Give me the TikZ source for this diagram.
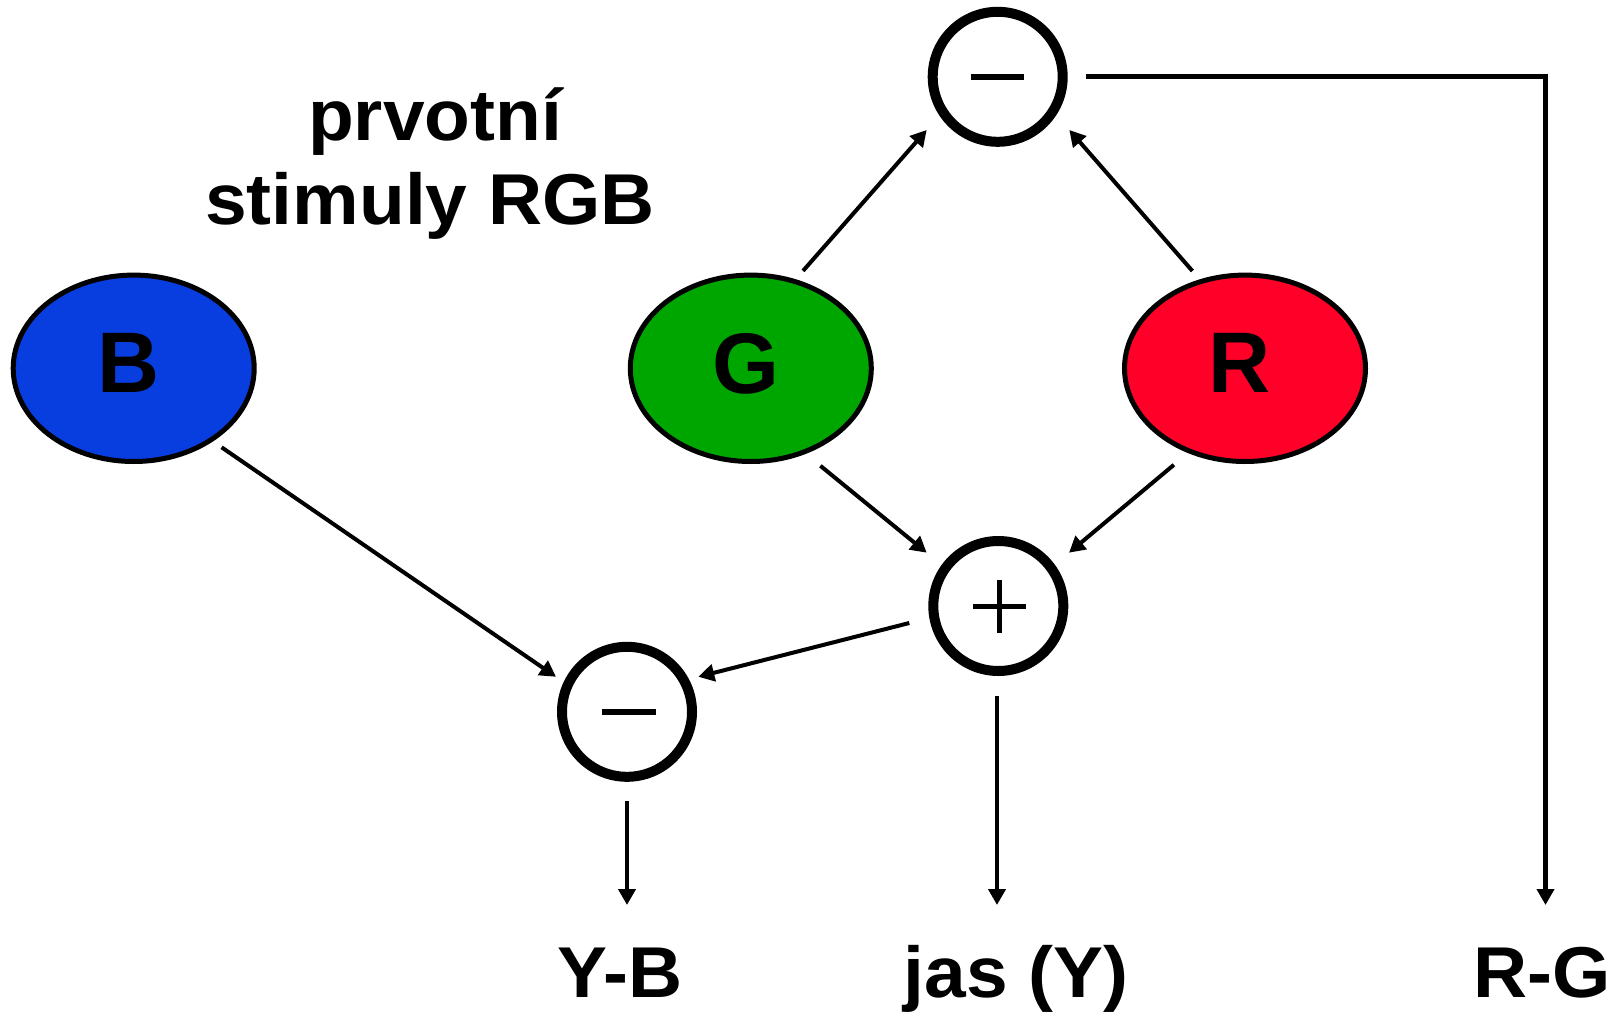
\documentclass[tikz,border=0pt]{standalone}
\usepackage{fontspec}
\setmainfont{Liberation Sans}
\newfontfamily\lblfont[FakeStretch=1.04]{Liberation Sans}
\usetikzlibrary{arrows.meta,calc,shapes.geometric}
\definecolor{coneB}{RGB}{8,62,224}
\definecolor{coneG}{RGB}{0,166,0}
\definecolor{coneR}{RGB}{255,0,40}
\begin{document}
\begin{tikzpicture}[x=0.5pt,y=-0.5pt,
  stim/.style={ellipse, draw, line width=2.5pt, minimum width=120.5pt,
    minimum height=93.2pt, inner sep=0pt, text depth=5pt,
    font=\bfseries\fontsize{43}{43}\selectfont},
  op/.style={circle, draw, line width=5pt, minimum size=65pt, inner sep=0pt},
  sign/.style={line width=3pt},
  conn/.style={line width=2pt, -{Triangle[length=8pt,width=8.5pt]}},
  lbl/.style={font=\lblfont\bfseries\fontsize{36}{36}\selectfont,
    anchor=base, inner sep=0pt}]
\useasboundingbox (0,0) rectangle (1616,1016);

% heading
\node[lbl] (title1) at (435,141) {prvotní};
\node[lbl] (title2) at (430,225) {stimuly RGB};

% primary stimuli
\node[stim, fill=coneB] (B) at (133.7,368.3) {B\kern5pt};
\node[stim, fill=coneG] (G) at (750.8,368.3) {G\kern5pt};
\node[stim, fill=coneR] (R) at (1245,368.3) {R\kern5pt};

% difference / sum stages
\node[op] (top) at (997.7,76.8) {};
\node[op] (plus) at (998.3,606) {};
\node[op] (minus) at (627,711.8) {};
\draw[sign] ($(top)+(-26.5,0)$) -- ($(top)+(26.5,0)$);
\draw[sign,line width=2.5pt] ($(plus)+(-25,0.5)$) -- ($(plus)+(28,0.5)$);
\draw[sign,line width=2.5pt] ($(plus)+(1.5,-26)$) -- ($(plus)+(1.5,27)$);
\draw[sign] ($(minus)+(-25,0)$) -- ($(minus)+(29,0)$);

% output channels
\node[lbl] (YB) at (620,997.6) {Y-B};
\node[lbl] (jas) at (1016,997.6) {jas (Y)};
\node[lbl] (RG) at (1542,997.6) {R-G};
\coordinate (ybEnd) at (627,905);
\coordinate (jasEnd) at (997,905);
\coordinate (rgEnd) at (1545.5,905);

% connections
\draw[conn] ($(G)+(52.2,-97.4)$) -- ($(top)+(-71,53.2)$);
\draw[conn] ($(R)+(-52.6,-97.3)$) -- ($(top)+(71.6,53.2)$);
\draw[conn] ($(G)+(69.6,97.5)$) -- ($(plus)+(-71.6,-53.3)$);
\draw[conn] ($(R)+(-71.1,96.5)$) -- ($(plus)+(70.7,-53.3)$);
\draw[conn] ($(B)+(87.9,79)$) -- ($(minus)+(-71,-35)$);
\draw[conn] ($(plus)+(-89,17)$) -- ($(minus)+(71.3,-35)$);
\draw[conn] ($(minus)+(0,89)$) -- (ybEnd);
\draw[conn] ($(plus)+(-1.3,90)$) -- (jasEnd);
\draw[conn, line width=2.3pt] ($(top)+(88.3,0)$) -| (rgEnd);
\end{tikzpicture}
\end{document}
